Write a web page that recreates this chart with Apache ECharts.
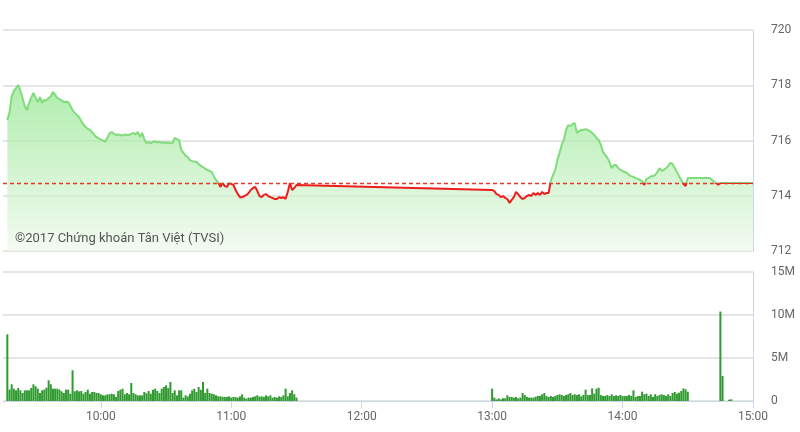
<!DOCTYPE html>
<html>
<head>
<meta charset="utf-8">
<script src="https://cdn.jsdelivr.net/npm/echarts@6/dist/echarts.min.js"></script>
<style>html,body{margin:0;padding:0;background:#fff}#c{width:800px;height:432px}</style>
</head>
<body>
<div id="c"></div>
<script>
// ---- data ----
const referencePrice = 714.47;
const xTickLabels = ['10:00', '11:00', '12:00', '13:00', '14:00', '15:00'];
const priceTicks = [712, 714, 716, 718, 720];
const volumeTicks = ['0', '5M', '10M', '15M'];

// per-minute index values, morning session starting 09:17
const morningStart = '09:17';
const morningPrice = [
  716.74,717.03,717.60,717.80,717.90,718.01,717.80,717.54,717.25,717.10,
  717.36,717.55,717.72,717.55,717.39,717.57,717.36,717.47,717.45,717.54,
  717.60,717.76,717.65,717.54,717.50,717.45,717.39,717.40,717.39,717.25,
  717.10,717.00,716.92,716.85,716.70,716.58,716.49,716.42,716.38,716.30,
  716.20,716.13,716.08,716.04,716.00,715.95,716.10,716.25,716.31,716.24,
  716.20,716.22,716.20,716.18,716.22,716.20,716.20,716.24,716.27,716.22,
  716.31,716.13,716.27,716.05,715.91,715.94,715.90,715.95,715.97,715.93,
  715.95,715.92,715.94,715.91,715.93,715.90,715.91,716.09,716.05,716.02,
  715.66,715.55,715.45,715.40,715.29,715.25,715.24,715.22,715.15,715.08,
  715.04,714.98,714.93,714.90,714.86,714.70,714.57,714.48,714.32,714.46,
  714.35,714.32,714.46,714.43,714.39,714.21,714.06,713.95,713.95,713.99,
  714.03,714.10,714.21,714.28,714.32,714.17,713.99,713.95,714.03,714.06,
  713.99,713.95,713.92,713.88,713.88,713.95,713.92,713.95,713.88,714.14,
  714.46,714.21,714.28,714.39
];
// per-minute volume (millions), morning session starting 09:17
const morningVolume = [
  7.75,1.32,1.94,1.43,1.24,1.51,1.24,0.93,1.24,1.24,
  1.24,1.51,1.94,1.71,1.43,0.93,1.24,1.32,1.55,2.40,
  1.94,1.43,1.43,1.43,1.32,1.12,0.93,1.32,1.32,0.85,
  3.57,1.12,1.24,1.12,1.16,0.85,1.05,1.32,0.85,1.05,
  1.05,0.93,0.93,0.78,0.66,0.66,0.78,0.78,0.85,0.78,
  0.47,1.16,1.32,1.43,0.78,0.93,0.78,2.09,0.93,0.78,
  0.66,0.66,0.66,1.05,0.90,
  1.16,0.85,1.32,1.43,1.16,0.93,1.43,1.63,1.82,1.50,
  2.21,0.93,1.24,0.66,1.24,1.24,0.39,0.66,0.54,0.85,
  1.24,1.43,1.05,1.63,1.30,2.21,0.93,1.43,0.93,0.85,
  0.78,0.66,0.54,0.54,0.50,0.47,0.47,0.54,0.39,0.47,
  0.45,0.39,0.54,0.78,0.39,0.27,0.40,0.39,0.47,0.54,
  0.66,0.50,
  0.54,0.47,0.66,0.54,0.66,0.39,0.47,0.39,0.54,0.47,
  0.66,1.43,0.54,0.93,1.24,0.78,0.39
];

// afternoon session starting 13:00
const afternoonStart = '13:00';
const afternoonPrice = [
  714.21,714.17,714.06,714.03,713.95,713.99,713.92,713.88,713.74,713.85,
  713.95,714.14,714.06,713.95,713.88,713.92,713.99,714.03,713.99,714.10,
  714.03,714.10,714.03,714.14,714.06,714.10,714.10,714.55,714.75,714.93,
  715.29,715.55,715.84,716.02,716.38,716.56,716.52,716.60,716.63,716.27,
  716.34,716.38,716.38,716.41,716.38,716.34,716.27,716.20,716.09,716.02,
  715.84,715.58,715.48,715.37,715.22,715.00,715.11,715.11,715.00,714.93,
  714.90,714.86,714.82,714.75,714.71,714.68,714.64,714.61,714.57,714.53,
  714.39,714.61,714.64,714.71,714.71,714.75,714.86,715.00,714.90,714.93,
  715.00,715.08,715.19,715.15,715.00,714.86,714.71,714.57,714.43,714.35,
  714.64
];
const afternoonVolume = [
  1.43,0.39,0.19,0.31,0.19,0.31,0.31,0.66,0.47,0.47,
  0.39,0.47,0.31,0.39,0.93,0.70,0.47,0.39,0.39,0.39,
  0.50,0.58,0.58,0.78,0.93,0.58,0.47,0.58,0.47,0.58,
  0.70,0.78,0.70,0.58,0.70,0.78,0.93,0.70,0.78,0.70,
  0.78,0.54,0.70,1.32,0.70,0.70,1.47,0.85,1.43,1.55,
  0.70,0.58,0.58,0.70,0.58,0.78,0.58,0.66,0.58,0.70,
  0.58,0.58,0.58,0.70,0.58,1.24,0.47,0.58,0.58,1.08,
  0.78,0.85,0.58,0.78,0.47,0.78,0.58,0.70,0.78,0.70,
  0.58,0.78,0.58,0.93,1.05,0.85,0.97,1.16,1.47,1.36,
  1.08
];

// closing auction / after session
const closeTimes = ['14:40', '14:44', '14:45', '15:00'];
const closePrice = [714.64, 714.40, 714.46, 714.46];
const closeVolTimes = ['14:45', '14:46', '14:49', '14:50'];
const closeVolume = [10.4, 2.9, 0.15, 0.2];

// ---- build ----
function toMin(t) { const p = t.split(':'); return (+p[0]) * 60 + (+p[1]); }
function fmt(m) { const h = Math.floor(m / 60), mm = Math.round(m % 60); return h + ':' + (mm < 10 ? '0' : '') + mm; }

const priceData = [];
morningPrice.forEach((v, i) => priceData.push([toMin(morningStart) + i, v]));
afternoonPrice.forEach((v, i) => priceData.push([toMin(afternoonStart) + i, v]));
closeTimes.forEach((t, i) => priceData.push([toMin(t), closePrice[i]]));

const volData = [];
morningVolume.forEach((v, i) => volData.push([toMin(morningStart) + i, v]));
afternoonVolume.forEach((v, i) => volData.push([toMin(afternoonStart) + i, v]));
closeVolTimes.forEach((t, i) => volData.push([toMin(t), closeVolume[i]]));

const xMin = toMin('09:15'), xMax = toMin('15:00');
const tickVals = xTickLabels.map(toMin);

const chart = echarts.init(document.getElementById('c'), null, { renderer: 'canvas' });
const gridColor = '#dcdcdc';
const axisColor = '#ccd6eb';
const labelStyle = { color: '#666', fontSize: 12, fontFamily: 'Roboto, sans-serif' };

chart.setOption({
  animation: false,
  backgroundColor: '#fff',
  grid: [
    { left: 3, right: 47, top: 30, bottom: 181 },
    { left: 3, right: 47, top: 272, bottom: 31 }
  ],
  xAxis: [
    { type: 'value', gridIndex: 0, min: xMin, max: xMax, show: false, splitLine: { show: false } },
    {
      type: 'value', gridIndex: 1, min: xMin, max: xMax,
      axisLine: { show: true, lineStyle: { color: axisColor, width: 1 } },
      axisTick: { show: true, length: 7, customValues: tickVals, lineStyle: { color: axisColor } },
      axisLabel: Object.assign({ customValues: tickVals, margin: 10, formatter: v => fmt(v) }, labelStyle),
      splitLine: { show: false }
    }
  ],
  yAxis: [
    {
      type: 'value', gridIndex: 0, position: 'right', min: 712, max: 720, interval: 2,
      axisLine: { show: true, lineStyle: { color: axisColor } },
      axisTick: { show: false },
      axisLabel: Object.assign({ margin: 18, formatter: v => String(v) }, labelStyle),
      splitLine: { show: true, lineStyle: { color: gridColor, width: 1.5 } }
    },
    {
      type: 'value', gridIndex: 1, position: 'right', min: 0, max: 15, interval: 5,
      axisLine: { show: true, lineStyle: { color: axisColor } },
      axisTick: { show: false },
      axisLabel: Object.assign({ margin: 18, formatter: v => volumeTicks[v / 5] }, labelStyle),
      splitLine: { show: true, lineStyle: { color: gridColor, width: 1.5 } }
    }
  ],
  visualMap: {
    type: 'piecewise', show: false, seriesIndex: 0, dimension: 1,
    pieces: [
      { min: referencePrice + 0.0001, max: 730, color: '#7fdc7a' },
      { min: 700, max: referencePrice, color: '#ee1c1c' }
    ]
  },
  graphic: [{
    type: 'text', left: 15, top: 232, z: 10,
    style: { text: '©2017 Chứng khoán Tân Việt (TVSI)', fill: '#555', fontSize: 13, fontFamily: 'Roboto, sans-serif' }
  }],
  series: [
    {
      type: 'line', xAxisIndex: 0, yAxisIndex: 0, data: priceData,
      showSymbol: false, symbol: 'none',
      lineStyle: { width: 2 },
      areaStyle: {
        origin: 'start',
        color: new echarts.graphic.LinearGradient(0, 0, 0, 1, [
          { offset: 0, color: '#8ee68a' },
          { offset: 1, color: '#eef9eb' }
        ])
      },
      markLine: {
        silent: true, symbol: 'none', label: { show: false },
        lineStyle: { color: '#e33a2a', type: [4, 3], width: 1.3 },
        data: [{ yAxis: referencePrice }]
      },
      z: 3
    },
    {
      type: 'bar', xAxisIndex: 1, yAxisIndex: 1, data: volData,
      barWidth: 2, itemStyle: { color: '#2f9a2f' }, z: 3
    }
  ]
});
</script>
</body>
</html>
